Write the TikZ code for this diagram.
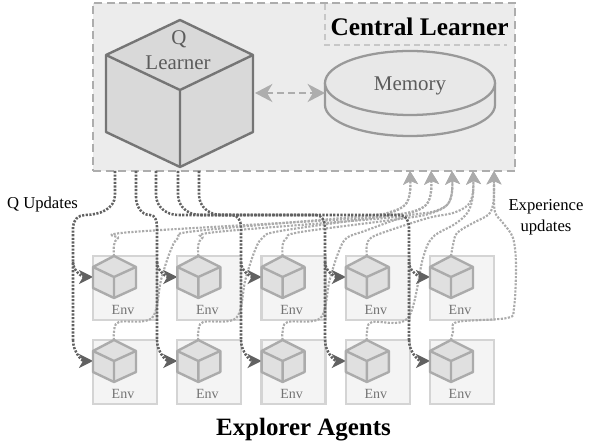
\documentclass[tikz,border=0pt]{standalone}
\usepackage{fontspec}
\setmainfont{Liberation Serif}
\usetikzlibrary{arrows.meta}
\definecolor{panel}{gray}{0.925}
\definecolor{panelline}{gray}{0.68}
\definecolor{titleline}{gray}{0.78}
\definecolor{qfill}{gray}{0.85}
\definecolor{qline}{gray}{0.46}
\definecolor{qtext}{gray}{0.36}
\definecolor{memfill}{gray}{0.91}
\definecolor{memline}{gray}{0.6}
\definecolor{envfill}{gray}{0.955}
\definecolor{envline}{gray}{0.83}
\definecolor{cubefill}{gray}{0.88}
\definecolor{cubeline}{gray}{0.67}
\definecolor{envtext}{gray}{0.45}
\definecolor{darkdots}{gray}{0.38}
\definecolor{lightdots}{gray}{0.67}
\tikzset{
  panelbox/.style={draw=panelline,fill=panel,line width=1.5pt,dash pattern=on 6pt off 3.4pt,inner sep=0pt,minimum width=316.5pt,minimum height=126pt},
  envbox/.style={draw=envline,fill=envfill,line width=1.7pt,inner sep=0pt,minimum width=48pt,minimum height=48pt},
  envlabel/.style={text=envtext,font=\fontsize{10.5}{12}\selectfont,inner sep=0pt},
  bigcube/.style={draw=qline,line width=1.8pt,line join=round,fill=qfill},
  smallcube/.style={draw=cubeline,line width=1.8pt,line join=round,fill=cubefill},
  memshape/.style={draw=memline,line width=1.7pt,fill=memfill},
  qdots/.style={draw=darkdots,line width=1.9pt,dash pattern=on 1.6pt off 1.1pt,-{Stealth[length=10.5pt,width=10.5pt,inset=3pt,fill=darkdots]}},
  qtrunk/.style={draw=darkdots,line width=1.9pt,dash pattern=on 1.6pt off 1.1pt},
  edots/.style={draw=lightdots,line width=1.6pt,dash pattern=on 1.6pt off 1.1pt,-{Stealth[length=10pt,width=11pt,inset=2.5pt,fill=lightdots]}},
  exch/.style={draw=panelline,line width=1.7pt,dash pattern=on 5pt off 3.2pt,{Stealth[length=13pt,width=13.5pt,inset=4pt,fill=panelline]}-{Stealth[length=13pt,width=13.5pt,inset=4pt,fill=panelline]}},
  caption/.style={font=\fontsize{12.5}{15}\selectfont,inner sep=0pt,align=center},
  headline/.style={font=\bfseries\fontsize{19}{24}\selectfont,inner sep=0pt},
  insidetext/.style={text=qtext,font=\fontsize{15.7}{19}\selectfont,inner sep=0pt}
}
\begin{document}
\begin{tikzpicture}[x=0.75pt,y=-0.75pt]
\useasboundingbox (0,0) rectangle (594,448);
% central panel
\node[panelbox] (central) at (304,87) {};
\draw[draw=titleline,line width=1.2pt,dash pattern=on 4.5pt off 3pt] (325,4) -- (325,45) -- (507,45);
\node[headline] (title) at (419.5,27) {Central Learner};
% Q learner cube
\path[bigcube] (180,20) -- (253,55) -- (253,132) -- (180,167) -- (106,132) -- (106,55) -- cycle;
\draw[bigcube,fill=none] (106,55) -- (180,90) -- (253,55) (180,90) -- (180,167);
\coordinate (qright) at (255,93);
\node[insidetext] (qa) at (179,39) {Q};
\node[insidetext] (qb) at (178,63) {Learner};
% memory
\path[memshape] (325,83) -- (325,105) arc[start angle=180,end angle=0,x radius=85,y radius=31] -- (495,83);
\path[memshape] (410,83) ellipse[x radius=85,y radius=32];
\coordinate (memleft) at (325,93);
\node[insidetext] (mem) at (410,86) {Memory};
\draw[exch] (qright) -- (memleft);
% environment boxes and connection points
\foreach \c/\bx in {1/93,2/177.3,3/261.6,4/345.8,5/430}{
  \foreach \r/\by in {1/256,2/340}{
    \node[envbox] (box\r\c) at (\bx+32,\by+32) {};
    \coordinate (top\r\c) at (\bx+21,\by);
    \coordinate (left\r\c) at (\bx,\by+21);
    \node[envlabel] (env\r\c) at (\bx+30,\by+54) {Env};
  }
}
% source and target points on the panel edge
\foreach \n/\x in {1/115,2/136,3/156,4/178,5/199}{\coordinate (qs\n) at (\x,171);}
\foreach \n/\x in {1/410,2/431,3/452,4/473,5/494}{\coordinate (ex\n) at (\x,171);}
% experience updates
\foreach \c/\t/\a in {1/114/410,2/198.3/431,3/282.6/452,4/366.8/473}{
  \draw[edots] plot[smooth,tension=.55] coordinates {(top1\c) (\t,245) (\t+4,238) (\t+18,232) (\a-45,218) (\a-20,213) (\a-5,205) (\a,192) (ex\c)};
}
\draw[edots] plot[smooth,tension=.55] coordinates {(top15) (453,245) (457,233) (473,223) (488,215) (493,205) (494,190) (ex5)};
\foreach \c/\t/\a in {1/114/410,2/198.3/431,3/282.6/452}{
  \draw[edots] plot[smooth,tension=.55] coordinates {(top2\c) (\t,332) (\t+5,322) (\t+38,318) (\t+47,280) (\t+56,252) (\t+64,238) (\t+82,231) (\a-45,216) (\a-20,212) (\a-5,205) (\a,192) (ex\c)};
}
\draw[edots] plot[smooth,tension=.55] coordinates {(top24) (367,332) (372,322) (408,318) (423,258) (433,237) (455,224) (468,212) (473,195) (ex4)};
\draw[edots] plot[smooth,tension=.55] coordinates {(top25) (453,332) (457,322) (507,318) (514,308) (516,265) (513,238) (503,223) (495,212) (494,190) (ex5)};
% Q updates
\draw[qtrunk] (qs1) -- (115,195) to[out=-90,in=0] (85,215) to[out=180,in=90] (73,227) -- (73,340);
\draw[qtrunk] (qs2) -- (136,197) to[out=-90,in=180] (150,215) to[out=0,in=90] (157,227) -- (157,340);
\draw[qtrunk] (qs3) -- (156,195) to[out=-90,in=180] (178,215) -- (232,215) to[out=0,in=90] (241,227) -- (241,340);
\draw[qtrunk] (qs4) -- (178,195) to[out=-90,in=180] (200,215) -- (316,215) to[out=0,in=90] (325,227) -- (325,340);
\draw[qtrunk] (qs5) -- (199,195) to[out=-90,in=180] (221,215) -- (400,215) to[out=0,in=90] (409,227) -- (409,340);
\foreach \c/\x in {1/73,2/157,3/241,4/325,5/409}{
  \draw[qdots] (\x,262) to[out=-90,in=180] (left1\c);
  \draw[qdots] (\x,340) to[out=-90,in=180] (left2\c);
}
% small cubes
\foreach \c/\bx in {1/93,2/177.3,3/261.6,4/345.8,5/430}{
  \foreach \by in {256,340}{
    \begin{scope}[shift={(\bx,\by)}]
      \path[smallcube] (21,0) -- (43,11) -- (43,32) -- (21,42) -- (0,32) -- (0,11) -- cycle;
      \draw[smallcube,fill=none] (0,11) -- (21,21) -- (43,11) (21,21) -- (21,42);
    \end{scope}
  }
}
% captions
\node[caption] (qup) at (42.5,204) {Q Updates};
\node[caption] (expup) at (546,217) {Experience\\[1pt]updates};
\node[font=\bfseries\fontsize{18.7}{22}\selectfont,inner sep=0pt] (explorers) at (303.5,430) {Explorer Agents};
\end{tikzpicture}
\end{document}
